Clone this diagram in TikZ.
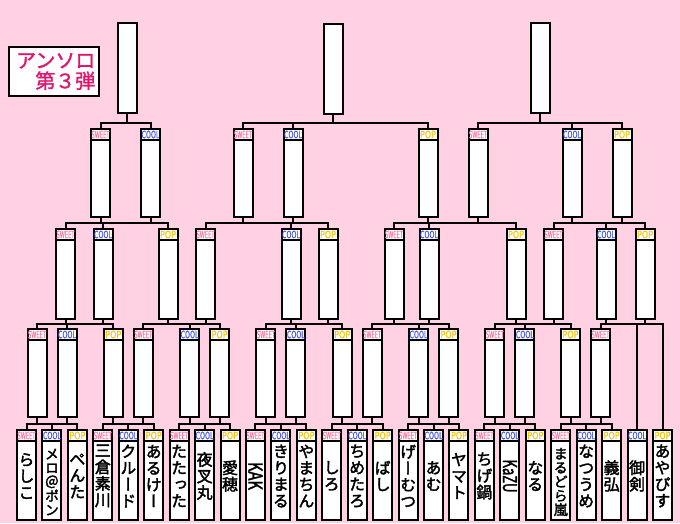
\documentclass[tikz,border=0pt]{standalone}
\usepackage{fontspec}
\usepackage{graphicx}
\newfontfamily\jpb[FakeBold=2.2,RawFeature=+vert]{Noto Sans CJK JP}
\newfontfamily\jpt[FakeBold=1.4]{Noto Sans CJK JP}
\newfontfamily\hdrf[FakeBold=0.6]{DejaVu Sans}
\definecolor{bgpink}{RGB}{255,209,226}
\definecolor{sweetc}{RGB}{248,120,165}
\definecolor{coolc}{RGB}{70,85,230}
\definecolor{popc}{RGB}{245,195,10}
\definecolor{titlec}{RGB}{228,20,110}
\newcommand\Sw{\textcolor{sweetc}{\resizebox{18pt}{7.5pt}{\hdrf SWEET}}}
\newcommand\Co{\textcolor{coolc}{\resizebox{18pt}{7.5pt}{\hdrf COOL}}}
\newcommand\Po{\textcolor{popc}{\resizebox{16pt}{7.5pt}{\hdrf POP}}}
\newcommand\tb[5]{%
  \node[bx, minimum height=#4pt] (#1) at (#2,#3) {};
  \node[hd] (#1-h) at (#1.north) {#5};}
\newcommand\leaf[4][nm]{%
  \tb{L4n#2}{{26.5+25.44*(#2-1)}}{475}{90}{#3}%
  \node[#1] (nm#2) at ([yshift=-1pt]L4n#2.center) {#4};}
\newcommand\grp[7]{%
  \coordinate (#1) at (0,#2);
  \draw[ln] (#5.north) -- (#5.north |- #1) -- (#7.north |- #1) -- (#7.north);
  \draw[ln] (#6.north) -- (#6.north |- #1);
  \draw[ln] (#3.south) -- (#3.south |- #1);
  \draw[ln] (#4.south) -- (#4.south |- #1);}
\begin{document}
\begin{tikzpicture}[x=1pt,y=-1pt,
  bx/.style={draw, fill=white, line width=2pt, minimum width=19pt, inner sep=0pt, outer sep=0pt},
  hd/.style={bx, minimum height=11pt, anchor=north},
  ln/.style={line width=2pt, line join=miter},
  nm/.style={font=\jpb\fontsize{16}{16.5}\selectfont, align=center, inner sep=0pt},
  nmv/.style={font=\jpb\fontsize{14}{14}\selectfont, align=center, inner sep=0pt, yshift=-6pt},
  nmr/.style={rotate=-90, inner sep=0pt}]
\fill[bgpink] (0,0) rectangle (680,523);
\useasboundingbox (0,0) rectangle (680,523);

% title
\node[bx, minimum width=90pt, minimum height=49pt] (titlebox) at (54,71.5) {};
\node[font=\jpt\fontsize{20}{20.5}\selectfont, text=titlec, align=right, inner sep=0pt, anchor=east] (title) at (95.5,71.5) {アンソロ\\第３弾};

% level 0
\node[bx, minimum height=90pt] (L0n1) at (127,68) {};
\node[bx, minimum height=90pt] (L0n2) at (333,69) {};
\node[bx, minimum height=90pt] (L0n3) at (540,68) {};

% level 1
\foreach \i/\x/\lb in {1/100.5/\Sw,2/150.5/\Co,3/243/\Sw,4/293/\Co,5/428/\Po,6/478/\Sw,7/572/\Co,8/622/\Po}
  {\tb{L1n\i}{\x}{173}{88}{\lb}}

% level 2
\foreach \i/\x/\lb in {1/65.5/\Sw,2/103/\Co,3/168/\Po,4/205.5/\Sw,5/291/\Co,6/328/\Po,7/394/\Sw,8/429/\Co,9/516/\Po,10/553.5/\Sw,11/606/\Co,12/645/\Po}
  {\tb{L2n\i}{\x}{274}{90}{\lb}}

% level 3
\foreach \i/\x/\lb in {1/37/\Sw,2/67/\Co,3/113.3/\Po,4/143.3/\Sw,5/189.6/\Co,6/219.6/\Po,7/265.9/\Sw,8/295.9/\Co,9/342.2/\Po,10/372.2/\Sw,11/418.5/\Co,12/448.5/\Po,13/494.9/\Sw,14/524.9/\Co,15/570.5/\Po,16/600.5/\Sw}
  {\tb{L3n\i}{\x}{373}{88}{\lb}}

% level 4 (names)
\leaf{1}{\Sw}{ら\\し\\こ}
\leaf[nmv]{2}{\Co}{メ\\ロ\\＠\\ポ\\ン}
\leaf{3}{\Po}{ぺ\\ん\\た}
\leaf{4}{\Sw}{三\\倉\\素\\川}
\leaf{5}{\Co}{ク\\ル\\ー\\ド}
\leaf{6}{\Po}{あ\\る\\け\\ー}
\leaf{7}{\Sw}{た\\た\\っ\\た}
\leaf{8}{\Co}{夜\\叉\\丸}
\leaf{9}{\Po}{愛\\穂}
\leaf[nmr]{10}{\Sw}{\resizebox{28pt}{14pt}{\jpb KAK}}
\leaf{11}{\Co}{き\\り\\ま\\る}
\leaf{12}{\Po}{や\\ま\\ち\\ん}
\leaf{13}{\Sw}{し\\ろ}
\leaf{14}{\Co}{ち\\め\\た\\ろ}
\leaf{15}{\Po}{ば\\し}
\leaf{16}{\Sw}{げ\\ー\\む\\つ}
\leaf{17}{\Co}{あ\\む}
\leaf{18}{\Po}{ヤ\\マ\\ト}
\leaf{19}{\Sw}{ち\\げ\\鍋}
\leaf[nmr]{20}{\Co}{\resizebox{33pt}{14pt}{\jpb KaZU}}
\leaf{21}{\Po}{な\\る}
\leaf[nmv]{22}{\Sw}{ま\\る\\ど\\ら\\嵐}
\leaf{23}{\Co}{な\\つ\\う\\め}
\leaf{24}{\Po}{義\\弘}
\leaf{25}{\Co}{御\\剣}
\leaf{26}{\Po}{あ\\や\\ぴ\\す}

% connectors level 0 -> 1
\coordinate (jt1) at (0,122.5);
\draw[ln] (L1n1.north) -- (L1n1.north |- jt1) -- (L1n2.north |- jt1) -- (L1n2.north);
\draw[ln] (L0n1.south) -- (L0n1.south |- jt1);
\grp{jt2}{122.5}{L0n2}{L0n2}{L1n3}{L1n4}{L1n5}
\grp{jt3}{122.5}{L0n3}{L0n3}{L1n6}{L1n7}{L1n8}

% connectors level 1 -> 2
\grp{ja1}{223}{L1n1}{L1n2}{L2n1}{L2n2}{L2n3}
\grp{ja2}{223}{L1n3}{L1n4}{L2n4}{L2n5}{L2n6}
\grp{ja3}{223}{L1n5}{L1n6}{L2n7}{L2n8}{L2n9}
\grp{ja4}{223}{L1n7}{L1n8}{L2n10}{L2n11}{L2n12}

% connectors level 2 -> 3
\grp{jb1}{324}{L2n1}{L2n2}{L3n1}{L3n2}{L3n3}
\grp{jb2}{324}{L2n3}{L2n4}{L3n4}{L3n5}{L3n6}
\grp{jb3}{324}{L2n5}{L2n6}{L3n7}{L3n8}{L3n9}
\grp{jb4}{324}{L2n7}{L2n8}{L3n10}{L3n11}{L3n12}
\grp{jb5}{324}{L2n9}{L2n10}{L3n13}{L3n14}{L3n15}
\grp{jb6}{324}{L2n11}{L2n12}{L3n16}{L4n25}{L4n26}

% connectors level 3 -> 4
\foreach \k in {0,...,7}{
  \pgfmathtruncatemacro\qa{2*\k+1}\pgfmathtruncatemacro\qb{2*\k+2}
  \pgfmathtruncatemacro\qc{3*\k+1}\pgfmathtruncatemacro\qd{3*\k+2}\pgfmathtruncatemacro\qe{3*\k+3}
  \grp{jd\k}{424}{L3n\qa}{L3n\qb}{L4n\qc}{L4n\qd}{L4n\qe}}
\end{tikzpicture}
\end{document}
